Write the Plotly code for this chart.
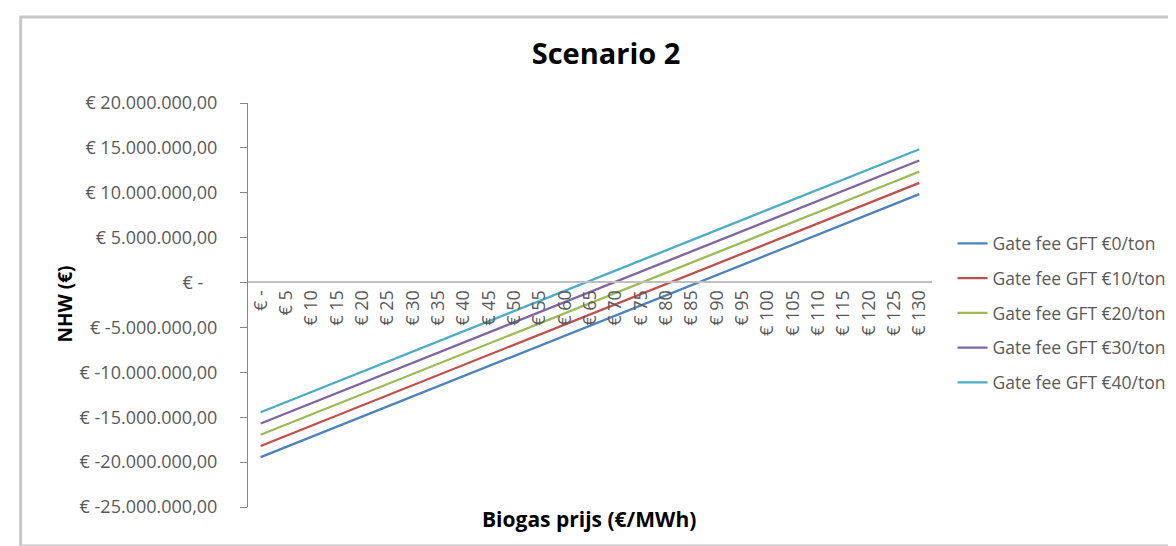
import plotly.graph_objects as go

prices = ["€ -"] + [f"€ {p}" for p in range(5, 135, 5)]

series_names = ["Gate fee GFT €0/ton", "Gate fee GFT €10/ton", "Gate fee GFT €20/ton",
                "Gate fee GFT €30/ton", "Gate fee GFT €40/ton"]
colors = ["#4F81BD", "#C0504D", "#9BBB59", "#8064A2", "#4BACC6"]

# values in million euro
gate0 = [-19.45, -18.32, -17.20, -16.07, -14.94, -13.82, -12.69, -11.56, -10.43, -9.31, -8.18, -7.05, -5.93,
         -4.80, -3.67, -2.55, -1.42, -0.29, 0.84, 1.96, 3.09, 4.22, 5.34, 6.47, 7.60, 8.73, 9.85]
gate10 = [-18.20, -17.07, -15.95, -14.82, -13.69, -12.57, -11.44, -10.31, -9.18, -8.06, -6.93, -5.80, -4.68,
          -3.55, -2.42, -1.30, -0.17, 0.96, 2.09, 3.21, 4.34, 5.47, 6.59, 7.72, 8.85, 9.98, 11.10]
gate20 = [-16.95, -15.82, -14.70, -13.57, -12.44, -11.32, -10.19, -9.06, -7.93, -6.81, -5.68, -4.55, -3.43,
          -2.30, -1.17, -0.05, 1.08, 2.21, 3.34, 4.46, 5.59, 6.72, 7.84, 8.97, 10.10, 11.23, 12.35]
gate30 = [-15.70, -14.57, -13.45, -12.32, -11.19, -10.07, -8.94, -7.81, -6.68, -5.56, -4.43, -3.30, -2.18,
          -1.05, 0.08, 1.20, 2.33, 3.46, 4.59, 5.71, 6.84, 7.97, 9.09, 10.22, 11.35, 12.48, 13.60]
gate40 = [-14.45, -13.32, -12.20, -11.07, -9.94, -8.82, -7.69, -6.56, -5.43, -4.31, -3.18, -2.05, -0.93,
          0.20, 1.33, 2.45, 3.58, 4.71, 5.84, 6.96, 8.09, 9.22, 10.34, 11.47, 12.60, 13.73, 14.85]
all_series = [gate0, gate10, gate20, gate30, gate40]

y_tickvals = [20e6, 15e6, 10e6, 5e6, 0, -5e6, -10e6, -15e6, -20e6, -25e6]
y_ticktext = ["€ 20.000.000,00", "€ 15.000.000,00", "€ 10.000.000,00", "€ 5.000.000,00",
              "€ -\u00a0\u00a0\u00a0",
              "€ -5.000.000,00", "€ -10.000.000,00", "€ -15.000.000,00", "€ -20.000.000,00", "€ -25.000.000,00"]

FONT = "Open Sans"
GRAY = "#595959"

fig = go.Figure()
for name, vals, col in zip(series_names, all_series, colors):
    fig.add_trace(go.Scatter(
        x=prices, y=[v * 1e6 for v in vals], mode="lines", name=name,
        line=dict(color=col, width=2.3), legendgroup=name))

fig.update_layout(
    width=1176, height=546,
    margin=dict(l=240, r=250, t=95, b=47),
    paper_bgcolor="white", plot_bgcolor="white",
    font=dict(family=FONT, color=GRAY, size=17),
    title=dict(text="<b>Scenario 2</b>", x=598 / 1176, xanchor="center", y=1 - 46 / 546, yanchor="middle",
               font=dict(family=FONT, size=29, color="#000000")),
    showlegend=True,
    legend=dict(x=1.03, xanchor="left", y=(499 - 313) / 404 + 0.02, yanchor="middle", traceorder="grouped",
                tracegroupgap=9, font=dict(family=FONT, size=17.5, color=GRAY),
                bgcolor="rgba(0,0,0,0)"),
    xaxis=dict(type="category", range=[-0.5, 26.5], anchor="free", position=225 / 404,
               showline=True, linecolor="#BFBFBF", linewidth=2, ticks="", tickangle=-90,
               showgrid=False, zeroline=False, tickfont=dict(family=FONT, size=18, color=GRAY)),
    yaxis=dict(range=[-25e6, 20e6], tickvals=y_tickvals, ticktext=y_ticktext, showgrid=False,
               zeroline=False, showline=True, linecolor="#868686", linewidth=1, ticks="outside",
               ticklen=7, tickcolor="#868686", ticklabelstandoff=19,
               tickfont=dict(family=FONT, size=18, color=GRAY)),
    annotations=[
        dict(text="<b>Biogas prijs (€/MWh)</b>", xref="paper", yref="paper", x=(582 - 240) / 686,
             y=(499 - 511) / 404, xanchor="center", yanchor="middle", showarrow=False,
             font=dict(family=FONT, size=21, color="#000000")),
        dict(text="<b>NHW (€)</b>", xref="paper", yref="paper", x=(56 - 240) / 686,
             y=(499 - 296) / 404, xanchor="center", yanchor="middle", showarrow=False, textangle=-90,
             font=dict(family=FONT, size=19, color="#000000")),
    ],
    shapes=[dict(type="rect", xref="paper", yref="paper",
                 x0=(12 - 240) / 686, x1=(1169 - 240) / 686,
                 y0=(499 - 538) / 404, y1=(499 - 9) / 404,
                 line=dict(color="#C8C8C8", width=3), fillcolor="rgba(0,0,0,0)", layer="below")],
)

fig.write_html("out.html")
